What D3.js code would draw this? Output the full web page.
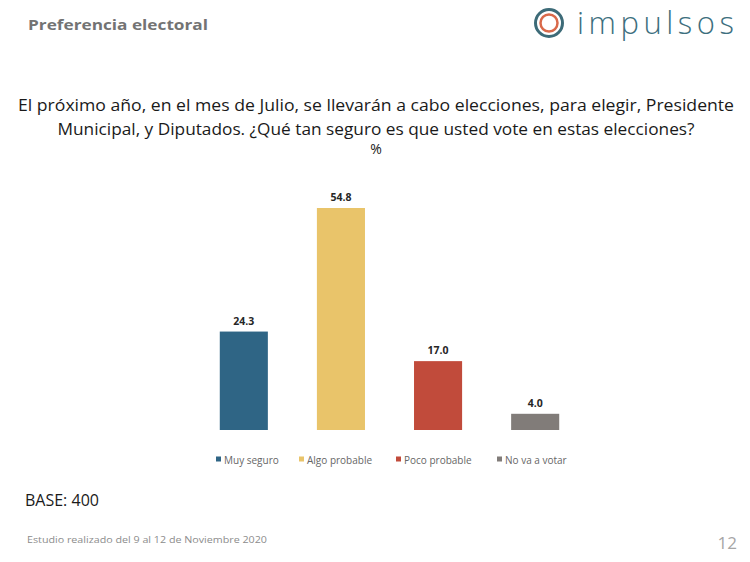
<!DOCTYPE html>
<html><head><meta charset="utf-8">
<script src="https://cdn.jsdelivr.net/npm/d3@7"></script>
<style>body{margin:0;background:#fff}svg{display:block}</style>
</head><body>
<svg id="chart" width="750" height="562"></svg>
<script>
const categories = ["Muy seguro", "Algo probable", "Poco probable", "No va a votar"];
const values = [24.3, 54.8, 17.0, 4.0];
const colors = ["#2f6585", "#e9c46a", "#c14b3b", "#817c79"];

const svg = d3.select("#chart");
const font = "'Open Sans', 'Noto Sans', sans-serif";

// Header
svg.append("text").attr("x", 28).attr("y", 30).text("Preferencia electoral")
  .attr("font-family", font).attr("font-weight", "bold").attr("font-size", 15)
  .attr("fill", "#737373").attr("textLength", 180).attr("lengthAdjust", "spacingAndGlyphs");

// Logo
svg.append("circle").attr("cx", 549).attr("cy", 23).attr("r", 13.5).attr("fill", "none").attr("stroke", "#3d6b78").attr("stroke-width", 3);
svg.append("circle").attr("cx", 549).attr("cy", 23).attr("r", 8.5).attr("fill", "none").attr("stroke", "#d9694a").attr("stroke-width", 2.5);
svg.append("text").attr("x", 577).attr("y", 34).text("impulsos")
  .attr("font-family", font).attr("font-weight", 300).attr("font-size", 31).attr("fill", "#3d6f7e")
  .attr("textLength", 157).attr("lengthAdjust", "spacing");

// Question
const q = svg.append("g").attr("font-family", font).attr("font-size", 16).attr("fill", "#1a1a1a").attr("text-anchor", "middle");
q.append("text").attr("x", 376).attr("y", 111)
  .text("El próximo año, en el mes de Julio, se llevarán a cabo elecciones, para elegir, Presidente")
  .attr("textLength", 716).attr("lengthAdjust", "spacingAndGlyphs");
q.append("text").attr("x", 376).attr("y", 135)
  .text("Municipal, y Diputados. ¿Qué tan seguro es que usted vote en estas elecciones?")
  .attr("textLength", 637).attr("lengthAdjust", "spacingAndGlyphs");
q.append("text").attr("x", 376).attr("y", 154).text("%").attr("font-size", 14);

// Chart
const x = d3.scaleBand().domain(categories).range([195.5, 583.5]).paddingInner(0.505).paddingOuter(0.25);
const y = d3.scaleLinear().domain([0, 54.8]).range([430, 208]);

svg.append("g").selectAll("rect").data(values).join("rect")
  .attr("x", (d, i) => x(categories[i]))
  .attr("y", d => y(d))
  .attr("width", x.bandwidth())
  .attr("height", d => y(0) - y(d))
  .attr("fill", (d, i) => colors[i]);

svg.append("g").selectAll("text").data(values).join("text")
  .attr("x", (d, i) => x(categories[i]) + x.bandwidth() / 2)
  .attr("y", d => y(d) - 7)
  .attr("text-anchor", "middle")
  .attr("font-family", font).attr("font-weight", "bold").attr("font-size", 10.5)
  .attr("fill", "#262626")
  .text(d => d.toFixed(1));

// Legend
const legendX = [216, 299, 396, 497];
const lg = svg.append("g").attr("font-family", font).attr("font-size", 10).attr("fill", "#666666");
categories.forEach((c, i) => {
  lg.append("rect").attr("x", legendX[i]).attr("y", 456.5).attr("width", 5).attr("height", 5).attr("fill", colors[i]);
  lg.append("text").attr("x", legendX[i] + 8).attr("y", 463.5).text(c);
});

// Footer
svg.append("text").attr("x", 25).attr("y", 506).text("BASE: 400")
  .attr("font-family", font).attr("font-size", 16).attr("fill", "#1a1a1a");
svg.append("text").attr("x", 27).attr("y", 543).text("Estudio realizado del 9 al 12 de Noviembre 2020")
  .attr("font-family", font).attr("font-size", 9).attr("fill", "#8c8c8c")
  .attr("textLength", 240).attr("lengthAdjust", "spacingAndGlyphs");
svg.append("text").attr("x", 737).attr("y", 549).attr("text-anchor", "end").text("12")
  .attr("font-family", font).attr("font-size", 17).attr("fill", "#a6a6a6");
</script>
</body></html>
